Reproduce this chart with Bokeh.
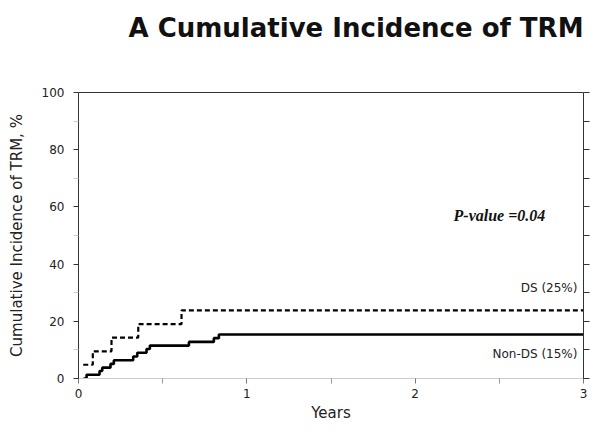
from bokeh.plotting import figure
from bokeh.models import (Range1d, LinearAxis, FixedTicker, Label)
from bokeh.embed import file_html
from bokeh.resources import INLINE

# Data (cumulative incidence, %)
ds_years = [0.028, 0.085, 0.196, 0.355, 0.612, 3.0]
ds_cuminc = [4.8, 9.5, 14.3, 19.0, 23.8, 23.8]

nonds_years = [0.03, 0.048, 0.125, 0.141, 0.19, 0.21, 0.325, 0.349, 0.404,
               0.424, 0.656, 0.804, 0.834, 3.0]
nonds_cuminc = [0.0, 1.3, 2.6, 3.8, 5.1, 6.4, 7.7, 9.0, 10.3, 11.5, 12.8,
                14.1, 15.4, 15.4]

x_ticks = [0, 1, 2, 3]
x_minor = [0.5, 1.5, 2.5]
y_ticks = [0, 20, 40, 60, 80, 100]
y_minor = [10, 30, 50, 70, 90]
right_ticks = [0, 10, 20, 30, 40, 50, 60, 70, 80, 90, 100]

title_text = "A Cumulative Incidence of TRM"
pvalue_text = "P-value =0.04"
ds_label = "DS (25%)"
nonds_label = "Non-DS (15%)"

FONT = "DejaVu Sans"
TXT = "#222222"

p = figure(width=592, height=424, output_backend="svg", toolbar_location=None,
           x_range=Range1d(0, 3), y_range=Range1d(0, 100),
           title_location=None,
           min_border_left=78, min_border_right=9, min_border_top=92,
           min_border_bottom=46, outline_line_color=None,
           background_fill_color="white", border_fill_color="white")
p.grid.visible = False

# Bottom axis
xa = p.xaxis[0]
xa.ticker = FixedTicker(ticks=x_ticks, minor_ticks=x_minor)
xa.axis_line_color = "#cccccc"
xa.major_tick_line_color = "#777777"
xa.minor_tick_line_color = "#999999"
xa.major_tick_in = 0
xa.major_tick_out = 5
xa.minor_tick_in = 0
xa.minor_tick_out = 5
xa.major_label_text_font = FONT
xa.major_label_text_font_size = "12px"
xa.major_label_text_color = TXT
xa.major_label_standoff = 5
xa.axis_label = "Years"
xa.axis_label_text_font = FONT
xa.axis_label_text_font_size = "15px"
xa.axis_label_text_font_style = "normal"
xa.axis_label_text_color = TXT
xa.axis_label_standoff = 3

# Left axis
ya = p.yaxis[0]
ya.ticker = FixedTicker(ticks=y_ticks, minor_ticks=y_minor)
ya.axis_line_color = "#333333"
ya.major_tick_line_color = "#333333"
ya.minor_tick_line_color = "#cccccc"
ya.major_tick_in = 0
ya.major_tick_out = 5
ya.minor_tick_in = 0
ya.minor_tick_out = 5
ya.major_label_text_font = FONT
ya.major_label_text_font_size = "12px"
ya.major_label_text_color = TXT
ya.major_label_standoff = 9
ya.axis_label = "Cumulative Incidence of TRM, %"
ya.axis_label_text_font = FONT
ya.axis_label_text_font_size = "15px"
ya.axis_label_text_font_style = "normal"
ya.axis_label_text_color = TXT
ya.axis_label_standoff = 13

# Right axis (ticks only, empty labels)
ra = LinearAxis(ticker=FixedTicker(ticks=right_ticks, minor_ticks=[]),
                axis_line_color="#333333", major_tick_line_color="#333333",
                major_tick_in=0, major_tick_out=6,
                minor_tick_line_color=None,
                major_label_overrides={t: "" for t in right_ticks},
                major_label_standoff=0)
p.add_layout(ra, "right")

# Top border (axis line only)
ta = LinearAxis(ticker=FixedTicker(ticks=[], minor_ticks=[]),
                axis_line_color="#333333", major_tick_line_color=None,
                minor_tick_line_color=None, major_label_standoff=0)
p.add_layout(ta, "above")

# Title as a label placed in the top panel (not clipped to the frame)
p.add_layout(Label(x=3.0, y=122.6, text=title_text, text_align="right",
                   text_baseline="alphabetic", text_font=FONT,
                   text_font_size="26px", text_font_style="bold",
                   text_color="#111111"), "above")

# Curves
p.step(x=ds_years, y=ds_cuminc, mode="after", line_color="black",
       line_width=2.2, line_dash="5 3")
p.step(x=nonds_years, y=nonds_cuminc, mode="after", line_color="black",
       line_width=2.6)

# Texts
p.add_layout(Label(x=2.228, y=56.9, text=pvalue_text, text_align="left",
                   text_baseline="alphabetic", text_font="Liberation Serif",
                   text_font_size="16px", text_font_style="bold italic",
                   text_color="#111111"))
p.add_layout(Label(x=2.964, y=31.8, text=ds_label, text_align="right",
                   text_baseline="alphabetic", text_font=FONT,
                   text_font_size="12px", text_color=TXT))
p.add_layout(Label(x=2.964, y=8.7, text=nonds_label, text_align="right",
                   text_baseline="alphabetic", text_font=FONT,
                   text_font_size="12px", text_color=TXT))

open("out.html", "w").write(file_html(p, INLINE))
